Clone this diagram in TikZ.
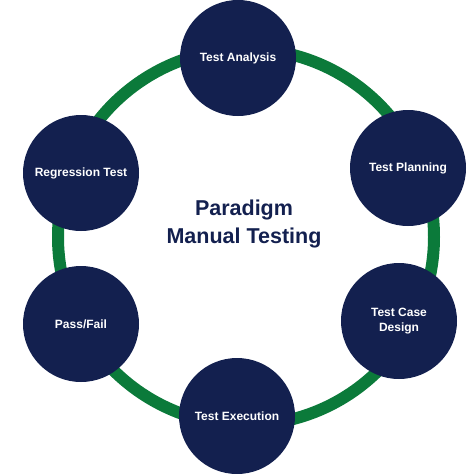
\documentclass[tikz,border=0pt]{standalone}
\usepackage{fontspec}
\setmainfont{Liberation Sans}
\usepackage{tikz}
\usepackage{xcolor}
\usetikzlibrary{positioning}
\definecolor{navy}{HTML}{13204F}
\definecolor{ringgreen}{HTML}{0B7A3A}
\tikzstyle{stage} = [circle, fill=navy, text=white, minimum size=116pt,
    inner sep=0pt, align=center, font=\bfseries\fontsize{12}{15}\selectfont]
\tikzstyle{ring} = [draw=ringgreen, line width=12pt]

\begin{document}
\begin{tikzpicture}[x=1pt, y=-1pt]
	\useasboundingbox (0,0) rectangle (474,474);
	\coordinate (Ring_centre) at (246,237);
	\draw [ring] (Ring_centre) circle [radius=188pt];
	\node [stage] (Test_analysis) at (238,58) {Test Analysis};
	\node [stage] (Test_planning) at (408,168) {Test Planning};
	\node [stage] (Test_case_design) at (399,321) {Test Case\\Design};
	\node [stage] (Test_execution) at (237,416) {Test Execution};
	\node [stage] (Pass_fail) at (81,324) {Pass/Fail};
	\node [stage] (Regression_test) at (81,173) {Regression Test};
	\node [text=navy, align=center, font=\bfseries\fontsize{21.5}{28}\selectfont]
		(Title) at (244,224) {Paradigm\\Manual Testing};
\end{tikzpicture}
\end{document}
